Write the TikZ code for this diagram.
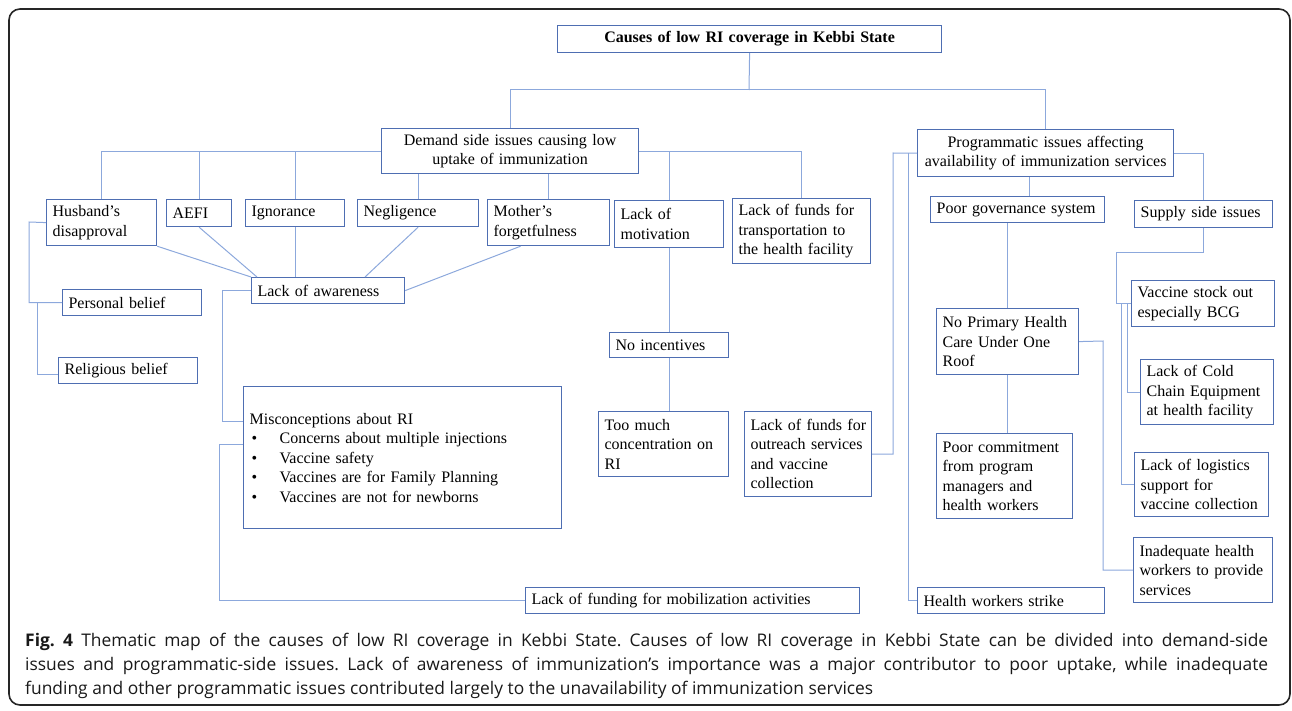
\documentclass[tikz,border=0pt]{standalone}
\usepackage{fontspec}
\setmainfont{Liberation Serif}
\newfontfamily\capfont{Open Sans}
\usetikzlibrary{calc}
\definecolor{boxblue}{RGB}{78,110,178}
\definecolor{lineblue}{RGB}{140,168,220}
\newcommand{\fs}{\fontsize{16}{19.5}\selectfont}
\newcommand{\kbox}[7][]{%
  \pgfmathsetmacro\bw{#5-#3-12}\pgfmathsetmacro\bh{#6-#4}%
  \node[bx,#1,text width=\bw pt,minimum height=\bh pt] (#2) at (#3,#4) {#7};}
\newcommand{\itm}{\hspace*{2pt}\makebox[28pt][l]{\textbullet}}
\tikzset{
  bx/.style={draw=boxblue, line width=1.2pt, inner xsep=6pt, inner ysep=2pt,
    align=left, anchor=north west, font=\fs, text=black},
  conn/.style={draw=lineblue, line width=1pt},
  captext/.style={anchor=base west, inner sep=0pt, font=\capfont\fontsize{17.4}{20}\selectfont, text=black!90}
}
\frenchspacing
\begin{document}
\begin{tikzpicture}[x=1pt,y=-1pt]
\useasboundingbox (0,0) rectangle (1292,711);
\draw[line width=1.6pt, rounded corners=11pt, black!85] (9,9) rectangle (1290,705);

% boxes
\kbox[align=center,font=\fs\bfseries]{title}{557}{25}{941}{52}{Causes of low RI coverage in Kebbi State}
\kbox[align=center]{demand}{381}{128}{638}{173}{Demand side issues causing low\\uptake of immunization}
\kbox[align=center]{prog}{917}{129}{1173}{176}{Programmatic issues affecting\\availability of immunization services}
\kbox{husband}{46}{199}{156}{245}{Husband’s\\disapproval}
\kbox{aefi}{166}{199}{231}{226}{AEFI}
\kbox{ignorance}{245}{199}{344}{226}{Ignorance}
\kbox{negligence}{357}{199}{478}{226}{Negligence}
\kbox{mother}{487}{199}{609}{245}{Mother’s\\forgetfulness}
\kbox{motivation}{614}{200}{723}{247}{Lack of\\motivation}
\kbox{transport}{732}{198}{870}{263}{Lack of funds for\\transportation to\\the health facility}
\kbox{awareness}{251}{277}{404}{303}{Lack of awareness}
\kbox{personal}{62}{289}{201}{315}{Personal belief}
\kbox{religious}{58}{357}{197}{383}{Religious belief}
\kbox{misc}{243}{386}{561}{528}{Misconceptions about RI\\
\itm Concerns about multiple injections\\
\itm Vaccine safety\\
\itm Vaccines are for Family Planning\\
\itm Vaccines are not for newborns}
\kbox{incentives}{609}{332}{728}{357}{No incentives}
\kbox{toomuch}{598}{411}{728}{476}{Too much\\concentration on\\RI}
\kbox{outreach}{744}{411}{871}{496}{\mbox{Lack of funds for}\\\mbox{outreach services}\\and vaccine\\collection}
\kbox{mobil}{525}{587}{859}{613}{Lack of funding for mobilization activities}
\kbox{govern}{930}{196}{1104}{222}{Poor governance system}
\kbox{supply}{1134}{200}{1272}{227}{Supply side issues}
\kbox{stock}{1131}{280}{1274}{326}{Vaccine stock out\\especially BCG}
\kbox{noprimary}{936}{308}{1078}{374}{No Primary Health\\Care Under One\\Roof}
\kbox{commit}{936}{433}{1072}{518}{Poor commitment\\from program\\managers and\\health workers}
\kbox{cold}{1140}{359}{1273}{424}{Lack of Cold\\Chain Equipment\\at health facility}
\kbox{logistics}{1134}{452}{1268}{516}{Lack of logistics\\support for\\vaccine collection}
\kbox{inadequate}{1133}{537}{1272}{602}{Inadequate health\\\mbox{workers to provide}\\services}
\kbox{strike}{917}{587}{1104}{613}{Health workers strike}

% connectors: top level
\coordinate (tj) at (749,90);
\draw[conn] (title.south) -- (tj);
\draw[conn] (tj) -| (demand.north);
\draw[conn] (tj) -| (prog.north);

% demand side
\draw[conn] (demand.west) -| (husband.north);
\draw[conn] (demand.west) -| (aefi.north);
\draw[conn] (demand.west) -| (ignorance.north);
\draw[conn] (demand.east) -| (motivation.north);
\draw[conn] (demand.east) -| (transport.north);
\draw[conn] (negligence.north) -- (negligence.north |- demand.south);
\draw[conn] (mother.north) -- (mother.north |- demand.south);

\draw[conn] (husband.south east) -- (awareness.north west);
\draw[conn] (aefi.south) -- ($(awareness.north west)+(6,0)$);
\draw[conn] (ignorance.south) -- (ignorance.south |- awareness.north);
\draw[conn] (negligence.south) -- ($(awareness.north west)+(114,0)$);
\draw[conn] ($(mother.south)+(-28,0)$) -- (awareness.east);

\draw[conn] (husband.west) -- (29,222) |- (personal.west);
\draw[conn] (37,303) |- ($(religious.west)+(0,4)$);

\draw[conn] (awareness.west) -| (222,421) -- ($(misc.north west)+(0,35)$);
\draw[conn] ($(misc.north west)+(0,58)$) -- (219,444) |- (mobil.west);

\draw[conn] (motivation.south) -- (incentives.north);
\draw[conn] (incentives.south) -- (incentives.south |- toomuch.north);

% programmatic side
\draw[conn] (outreach.east) -| (893,153) -- (prog.west);
\draw[conn] (908,153) |- (strike.west);
\draw[conn] ($(prog.south)+(-16,0)$) -- ($(govern.north)+(12,0)$);
\draw[conn] (noprimary.north) -- (noprimary.north |- govern.south);
\draw[conn] (noprimary.south) -- (noprimary.south |- commit.north);
\draw[conn] (noprimary.east) -- (1103,341) |- (inadequate.west);
\draw[conn] (prog.east) -| (supply.north);
\draw[conn] (supply.south) |- (1116,253) |- (stock.west);
\draw[conn] (1127,303) |- (cold.west);
\draw[conn] (1121,303) |- (logistics.west);

% caption
\node[captext] (cap1) at (25,646) {\makebox[1243pt][s]{\textbf{Fig. 4} Thematic map of the causes of low RI coverage in Kebbi State. Causes of low RI coverage in Kebbi State can be divided into demand-side}};
\node[captext] (cap2) at (25,670) {\makebox[1243pt][s]{issues and programmatic-side issues. Lack of awareness of immunization’s importance was a major contributor to poor uptake, while inadequate}};
\node[captext] (cap3) at (25,694) {funding and other programmatic issues contributed largely to the unavailability of immunization services};
\end{tikzpicture}
\end{document}
